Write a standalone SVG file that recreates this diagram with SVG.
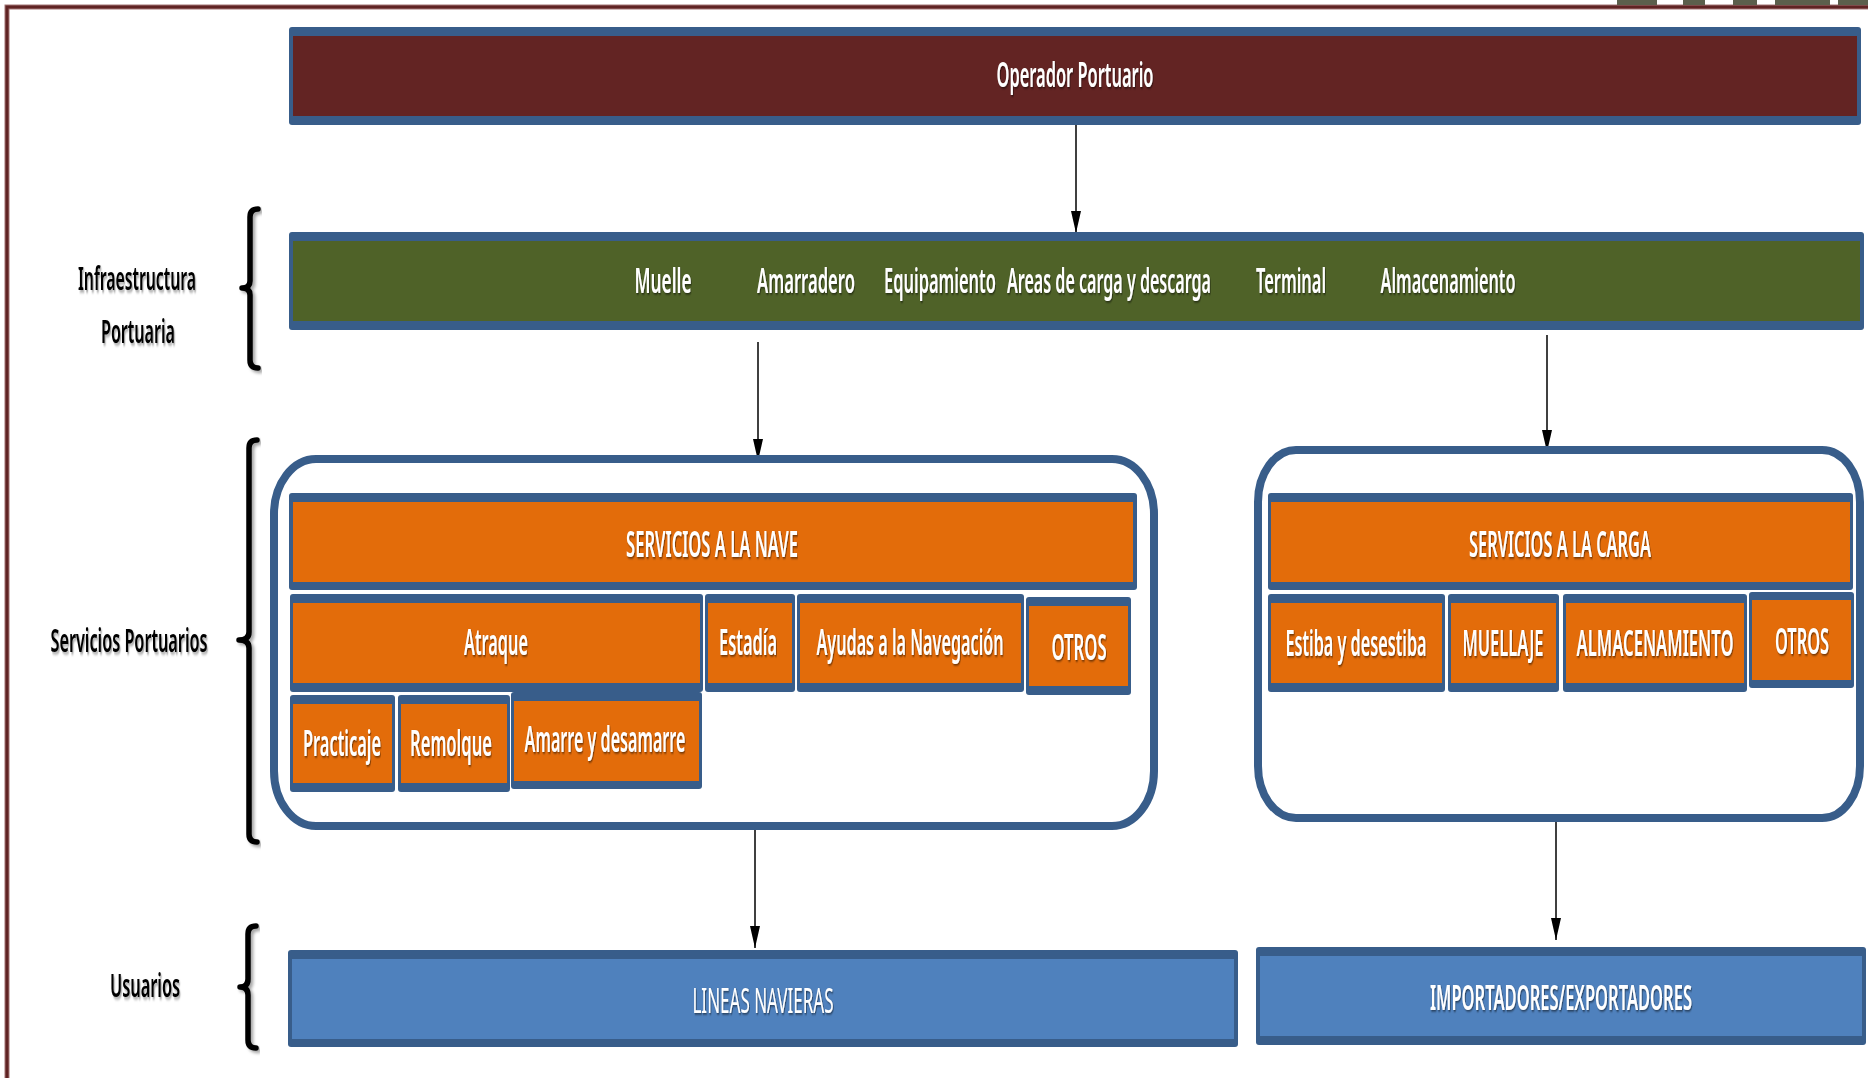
<svg xmlns="http://www.w3.org/2000/svg" width="1868" height="1078" viewBox="0 0 1868 1078">
<defs>
<style>
.bd{fill:#385D8A}
.or{fill:#E36C0A}
.wt{font-family:"Noto Sans","Open Sans","Liberation Sans",sans-serif;font-weight:600;font-size:35px;fill:#ffffff;text-anchor:middle;filter:url(#ts)}
.wo{font-size:36px}
.bt{font-family:"Noto Sans","Open Sans","Liberation Sans",sans-serif;font-weight:600;font-size:32px;fill:#000000;text-anchor:middle;filter:url(#bs)}
.cont{fill:#ffffff;stroke:#385D8A;stroke-width:8}
.br{fill:none;stroke:#000;stroke-width:5.5;stroke-linecap:round;stroke-linejoin:round;filter:url(#bs)}
.ln{stroke:#000;stroke-width:1.5;fill:none;marker-end:url(#ah)}
</style>
<filter id="ts" x="-10%" y="-30%" width="120%" height="160%">
<feDropShadow dx="1.5" dy="1.5" stdDeviation="1" flood-color="#000" flood-opacity="0.55"/>
</filter>
<filter id="bs" x="-20%" y="-20%" width="140%" height="140%">
<feDropShadow dx="2.5" dy="2.5" stdDeviation="1.5" flood-color="#000" flood-opacity="0.35"/>
</filter>
<marker id="ah" markerUnits="userSpaceOnUse" markerWidth="22" markerHeight="10" refX="22" refY="5" orient="auto">
<path d="M0,0 L22,5 L0,10 z" fill="#000"/>
</marker>
</defs>
<rect x="0" y="0" width="1868" height="1078" fill="#ffffff"/>
<g id="frame">
<path d="M7,1078 V7 H1868" fill="none" stroke="#a27474" stroke-width="5"/>
<path d="M7,1078 V7 H1868" fill="none" stroke="#5f2323" stroke-width="3"/>
<g fill="#5b5f4c">
<rect x="1617" y="0" width="40" height="5"/>
<rect x="1683" y="0" width="22" height="5"/>
<rect x="1733" y="0" width="24" height="5"/>
<rect x="1775" y="0" width="55" height="5"/>
<rect x="1838" y="0" width="30" height="5"/>
</g>
</g>

<g id="connectors">
<line class="ln" x1="1076" y1="125" x2="1076" y2="233"/>
<line class="ln" x1="758" y1="342" x2="758" y2="461"/>
<line class="ln" x1="1547" y1="335" x2="1547" y2="452"/>
<line class="ln" x1="755" y1="830" x2="755" y2="948"/>
<line class="ln" x1="1556" y1="822" x2="1556" y2="940"/>
</g>

<g id="operador">
<rect class="bd" x="289" y="27" width="1572" height="98" rx="3"/>
<rect x="293" y="36" width="1564" height="80" fill="#632423"/>
<text class="wt" transform="translate(1075,87) scale(0.48,1)" textLength="327" lengthAdjust="spacingAndGlyphs">Operador  Portuario</text>
</g>

<g id="infraestructura">
<rect class="bd" x="289" y="232" width="1575" height="98" rx="3"/>
<rect x="293" y="241" width="1567" height="80" fill="#4F6228"/>
<text class="wt" transform="translate(663,293) scale(0.48,1)" textLength="119" lengthAdjust="spacingAndGlyphs">Muelle</text>
<text class="wt" transform="translate(806,293) scale(0.48,1)" textLength="204" lengthAdjust="spacingAndGlyphs">Amarradero</text>
<text class="wt" transform="translate(940,293) scale(0.48,1)" textLength="233" lengthAdjust="spacingAndGlyphs">Equipamiento</text>
<text class="wt" transform="translate(1109,293) scale(0.48,1)" textLength="425" lengthAdjust="spacingAndGlyphs">Areas de carga y descarga</text>
<text class="wt" transform="translate(1291,293) scale(0.48,1)" textLength="146" lengthAdjust="spacingAndGlyphs">Terminal</text>
<text class="wt" transform="translate(1448,293) scale(0.48,1)" textLength="281" lengthAdjust="spacingAndGlyphs">Almacenamiento</text>
</g>

<g id="label-infra">
<text class="bt" transform="translate(137,290) scale(0.48,1)" textLength="246" lengthAdjust="spacingAndGlyphs">Infraestructura</text>
<text class="bt" transform="translate(138,343) scale(0.48,1)" textLength="154" lengthAdjust="spacingAndGlyphs">Portuaria</text>
<path class="br" d="M258,209 Q250,209 250,217 V281 Q250,288 242,288 Q250,288 250,295 V360 Q250,368 258,368"/>
</g>

<g id="label-servicios">
<text class="bt" transform="translate(129,652) scale(0.48,1)" textLength="327" lengthAdjust="spacingAndGlyphs">Servicios Portuarios</text>
<path class="br" d="M257,440 Q249,440 249,448 V632 Q249,640 239,640 Q249,640 249,648 V834 Q249,842 257,842"/>
</g>

<g id="label-usuarios">
<text class="bt" transform="translate(145,997) scale(0.48,1)" textLength="146" lengthAdjust="spacingAndGlyphs">Usuarios</text>
<path class="br" d="M256,926 Q248,926 248,934 V979 Q248,987 240,987 Q248,987 248,995 V1040 Q248,1048 256,1048"/>
</g>

<g id="servicios-nave">
<rect class="cont" x="274" y="459" width="880" height="367" rx="42" ry="55"/>
<g id="nave-header">
<rect class="bd" x="289" y="493" width="848" height="97" rx="3"/>
<rect class="or" x="293" y="502" width="840" height="80"/>
<text class="wt wo" transform="translate(712,557) scale(0.48,1)" textLength="358" lengthAdjust="spacingAndGlyphs">SERVICIOS A LA NAVE</text>
</g>
<g id="atraque">
<rect class="bd" x="290" y="594" width="413" height="98" rx="3"/>
<rect class="or" x="293" y="603" width="407" height="80"/>
<text class="wt wo" transform="translate(496,655) scale(0.48,1)" textLength="133" lengthAdjust="spacingAndGlyphs">Atraque</text>
</g>
<g id="estadia">
<rect class="bd" x="705" y="594" width="90" height="98" rx="3"/>
<rect class="or" x="708" y="603" width="84" height="80"/>
<text class="wt wo" transform="translate(748,655) scale(0.48,1)" textLength="121" lengthAdjust="spacingAndGlyphs">Estadía</text>
</g>
<g id="ayudas">
<rect class="bd" x="797" y="594" width="227" height="98" rx="3"/>
<rect class="or" x="800" y="603" width="221" height="80"/>
<text class="wt wo" transform="translate(910,655) scale(0.48,1)" textLength="390" lengthAdjust="spacingAndGlyphs">Ayudas a la Navegación</text>
</g>
<g id="otros-nave">
<rect class="bd" x="1026" y="597" width="105" height="98" rx="3"/>
<rect class="or" x="1029" y="606" width="99" height="80"/>
<text class="wt wo" transform="translate(1079,660) scale(0.48,1)" textLength="115" lengthAdjust="spacingAndGlyphs">OTROS</text>
</g>
<g id="practicaje">
<rect class="bd" x="290" y="695" width="105" height="97" rx="3"/>
<rect class="or" x="293" y="704" width="99" height="79"/>
<text class="wt wo" transform="translate(342,756) scale(0.48,1)" textLength="163" lengthAdjust="spacingAndGlyphs">Practicaje</text>
</g>
<g id="remolque">
<rect class="bd" x="398" y="695" width="112" height="97" rx="3"/>
<rect class="or" x="401" y="704" width="106" height="79"/>
<text class="wt wo" transform="translate(451,756) scale(0.48,1)" textLength="171" lengthAdjust="spacingAndGlyphs">Remolque</text>
</g>
<g id="amarre">
<rect class="bd" x="511" y="692" width="191" height="97" rx="3"/>
<rect class="or" x="514" y="701" width="185" height="80"/>
<text class="wt wo" transform="translate(605,752) scale(0.48,1)" textLength="335" lengthAdjust="spacingAndGlyphs">Amarre y desamarre</text>
</g>
</g>

<g id="servicios-carga">
<rect class="cont" x="1258" y="450" width="602" height="368" rx="38" ry="52"/>
<g id="carga-header">
<rect class="bd" x="1268" y="493" width="585" height="97" rx="3"/>
<rect class="or" x="1271" y="502" width="579" height="80"/>
<text class="wt wo" transform="translate(1560,557) scale(0.48,1)" textLength="379" lengthAdjust="spacingAndGlyphs">SERVICIOS A LA CARGA</text>
</g>
<g id="estiba">
<rect class="bd" x="1268" y="594" width="177" height="98" rx="3"/>
<rect class="or" x="1271" y="603" width="171" height="80"/>
<text class="wt wo" transform="translate(1356,656) scale(0.48,1)" textLength="294" lengthAdjust="spacingAndGlyphs">Estiba y desestiba</text>
</g>
<g id="muellaje">
<rect class="bd" x="1448" y="594" width="111" height="98" rx="3"/>
<rect class="or" x="1451" y="603" width="105" height="80"/>
<text class="wt wo" transform="translate(1503,656) scale(0.48,1)" textLength="169" lengthAdjust="spacingAndGlyphs">MUELLAJE</text>
</g>
<g id="almacenamiento">
<rect class="bd" x="1563" y="594" width="184" height="98" rx="3"/>
<rect class="or" x="1566" y="603" width="178" height="80"/>
<text class="wt wo" transform="translate(1655,656) scale(0.48,1)" textLength="327" lengthAdjust="spacingAndGlyphs">ALMACENAMIENTO</text>
</g>
<g id="otros-carga">
<rect class="bd" x="1749" y="592" width="105" height="96" rx="3"/>
<rect class="or" x="1752" y="600" width="99" height="80"/>
<text class="wt wo" transform="translate(1802,654) scale(0.48,1)" textLength="113" lengthAdjust="spacingAndGlyphs">OTROS</text>
</g>
</g>

<g id="lineas-navieras">
<rect class="bd" x="288" y="950" width="950" height="97" rx="3"/>
<rect x="292" y="959" width="942" height="80" fill="#4F81BD"/>
<text class="wt" transform="translate(763,1013) scale(0.48,1)" textLength="294" lengthAdjust="spacingAndGlyphs" style="font-weight:400">LINEAS NAVIERAS</text>
</g>

<g id="importadores">
<rect class="bd" x="1256" y="947" width="610" height="98" rx="3"/>
<rect x="1260" y="956" width="602" height="80" fill="#4F81BD"/>
<text class="wt" transform="translate(1561,1010) scale(0.48,1)" textLength="546" lengthAdjust="spacingAndGlyphs">IMPORTADORES/EXPORTADORES</text>
</g>
</svg>
